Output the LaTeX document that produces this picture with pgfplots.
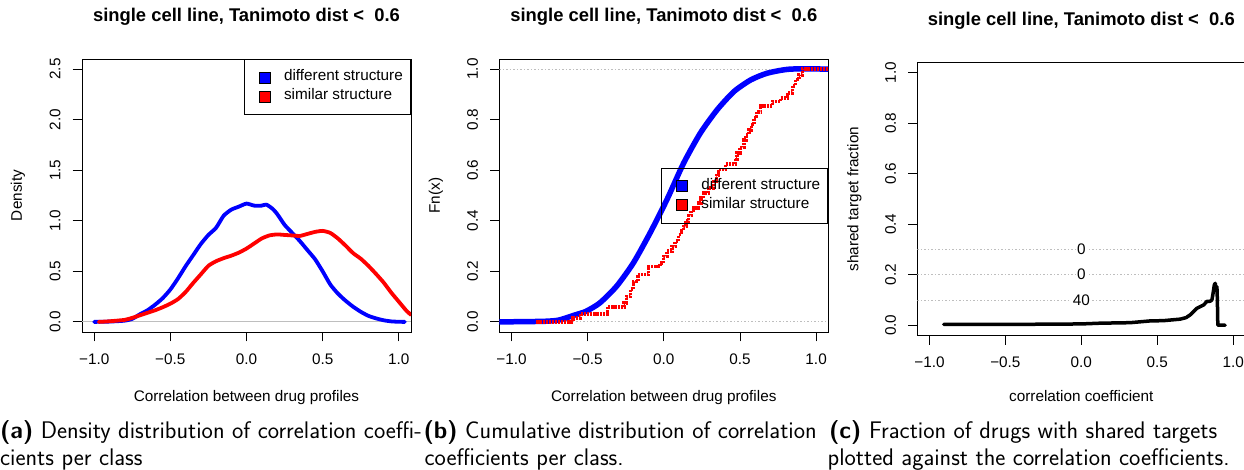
\documentclass[border=0pt]{standalone}
\usepackage{fontspec}
\setmainfont{Liberation Sans}
\usepackage{pgfplots}
\pgfplotsset{compat=1.18}
\definecolor{rblue}{RGB}{0,0,255}
\definecolor{rred}{RGB}{255,0,0}
\definecolor{rgray}{RGB}{190,190,190}

\pgfplotstableread{
x y
-1.00 0.000
-0.90 0.003
-0.80 0.012
-0.75 0.030
-0.70 0.075
-0.65 0.115
-0.60 0.170
-0.55 0.235
-0.50 0.320
-0.45 0.430
-0.40 0.550
-0.35 0.660
-0.30 0.770
-0.25 0.860
-0.20 0.930
-0.15 1.050
-0.10 1.110
-0.05 1.140
0.00 1.170
0.05 1.150
0.10 1.150
0.13 1.160
0.17 1.120
0.20 1.070
0.25 0.960
0.30 0.880
0.35 0.800
0.40 0.710
0.45 0.620
0.50 0.500
0.55 0.370
0.60 0.280
0.65 0.210
0.70 0.150
0.75 0.100
0.80 0.060
0.85 0.035
0.90 0.016
0.95 0.005
1.00 0.001
1.04 0.000
}\densdiff

\pgfplotstableread{
x y
-0.97 0.000
-0.90 0.006
-0.80 0.020
-0.75 0.040
-0.70 0.065
-0.65 0.090
-0.60 0.115
-0.55 0.145
-0.50 0.180
-0.45 0.225
-0.40 0.295
-0.35 0.385
-0.30 0.470
-0.25 0.555
-0.20 0.600
-0.15 0.630
-0.10 0.655
-0.05 0.685
0.00 0.725
0.05 0.775
0.10 0.825
0.15 0.855
0.20 0.865
0.25 0.860
0.30 0.855
0.35 0.850
0.40 0.870
0.45 0.890
0.50 0.900
0.55 0.880
0.60 0.825
0.65 0.755
0.70 0.680
0.75 0.625
0.80 0.555
0.85 0.475
0.90 0.390
0.95 0.290
1.00 0.200
1.05 0.110
1.08 0.070
}\denssim

\pgfplotstableread{
x y
-1.08 0.000
-0.80 0.002
-0.70 0.006
-0.64 0.016
-0.58 0.028
-0.51 0.042
-0.42 0.075
-0.31 0.141
-0.20 0.233
-0.09 0.352
0.02 0.483
0.13 0.628
0.24 0.747
0.35 0.839
0.46 0.911
0.57 0.957
0.68 0.984
0.83 1.000
1.09 1.000
}\cdfdiff

\pgfplotstableread{
x y
-0.837 0.000
-0.596 0.016
-0.547 0.032
-0.369 0.059
-0.260 0.075
-0.245 0.101
-0.220 0.130
-0.200 0.160
-0.171 0.187
-0.101 0.220
-0.024 0.233
-0.003 0.259
0.020 0.280
0.053 0.299
0.075 0.320
0.096 0.345
0.115 0.360
0.129 0.378
0.145 0.400
0.162 0.420
0.180 0.440
0.195 0.450
0.228 0.470
0.245 0.490
0.261 0.510
0.294 0.530
0.327 0.556
0.345 0.580
0.360 0.602
0.404 0.625
0.470 0.645
0.481 0.668
0.500 0.690
0.525 0.720
0.540 0.740
0.558 0.760
0.575 0.780
0.591 0.806
0.610 0.830
0.635 0.855
0.712 0.872
0.767 0.885
0.811 0.905
0.844 0.934
0.866 0.958
0.888 0.977
0.910 1.000
1.090 1.000
}\cdfsim

\pgfplotstableread{
x y
-0.906 0.003
-0.500 0.003
0.000 0.005
0.125 0.008
0.322 0.010
0.454 0.017
0.541 0.018
0.651 0.024
0.690 0.030
0.717 0.041
0.739 0.054
0.761 0.067
0.805 0.080
0.827 0.094
0.849 0.095
0.860 0.100
0.866 0.120
0.876 0.160
0.882 0.166
0.887 0.140
0.893 0.153
0.896 0.100
0.899 0.000
0.947 0.000
}\shared

\pgfplotsset{
  rstyle/.style={
    scale only axis,
    axis line style={line width=0.9pt},
    tick style={line width=0.9pt, black},
    tick align=outside,
    major tick length=9.3pt,
    xtick pos=left, ytick pos=left,
    xtick={-1,-0.5,0,0.5,1},
    xticklabels={−1.0,−0.5,0.0,0.5,1.0},
    tick label style={font=\fontsize{15.3}{18}\selectfont},
    xticklabel style={anchor=base},
    xticklabel shift=23.2pt,
    yticklabel style={rotate=90, anchor=base},
    yticklabel shift=12.2pt,
    label style={font=\fontsize{15.3}{18}\selectfont},
    title style={font=\bfseries\fontsize{18.4}{22}\selectfont, at={(axis description cs:0.5,1)}, anchor=base, yshift=31pt},
    xlabel style={at={(axis description cs:0.5,0)}, anchor=base, yshift=-69pt},
    title={single cell line, Tanimoto dist <~~0.6},
    legend image code/.code={\path (0pt,0pt); \draw[#1, draw=black, line width=0.6pt] (6.5pt,-5.5pt) rectangle (17.5pt,5.5pt);},
    legend cell align=left,
    legend style={draw=black, line width=0.9pt, fill=none, inner xsep=7.7pt, inner ysep=10.5pt,
      font=\fontsize{15.3}{18}\selectfont, column sep=13.5pt, row sep=4pt,
      nodes={inner sep=0pt, text height=11pt, text depth=4pt, anchor=west}},
  }
}

\begin{document}
\begin{tikzpicture}
\path[use as bounding box] (0pt,0pt) rectangle (1244pt,469pt);

% ---------- (a) ----------
\begin{axis}[rstyle, at={(82pt,137pt)}, anchor=south west, width=329pt, height=273pt,
  xmin=-1.08, xmax=1.08, ymin=-0.1, ymax=2.6,
  ytick={0,0.5,1,1.5,2,2.5}, yticklabels={0.0,0.5,1.0,1.5,2.0,2.5},
  xlabel={Correlation between drug profiles}, ylabel={Density},
  ylabel style={at={(axis description cs:-0.1945,0.5)}, anchor=center},
  legend style={at={(rel axis cs:1,1)}, anchor=north east}]
\addlegendimage{fill=rblue}
\addlegendentry{different structure}
\addlegendimage{fill=rred}
\addlegendentry{similar structure}
\addplot[rgray, line width=0.8pt, forget plot] coordinates {(-1.08,0) (1.08,0)};
\addplot[rblue, line width=3.8pt, smooth, tension=0.35, line cap=round, line join=round, forget plot] table {\densdiff};
\addplot[rred, line width=3.8pt, smooth, tension=0.35, line cap=round, line join=round, forget plot] table {\denssim};
\end{axis}

% ---------- (b) ----------
\begin{axis}[rstyle, at={(499.3pt,137pt)}, anchor=south west, width=329pt, height=273pt,
  xmin=-1.08, xmax=1.08, ymin=-0.04, ymax=1.04,
  ytick={0,0.2,0.4,0.6,0.8,1}, yticklabels={0.0,0.2,0.4,0.6,0.8,1.0},
  xlabel={Correlation between drug profiles}, ylabel={Fn(x)},
  ylabel style={at={(axis description cs:-0.193,0.5)}, anchor=center},
  legend style={at={(rel axis cs:1,0.5)}, anchor=east}]
\addlegendimage{fill=rblue}
\addlegendentry{different structure}
\addlegendimage{fill=rred}
\addlegendentry{similar structure}
\addplot[rgray, line width=0.8pt, dash pattern=on 1.5pt off 2pt, forget plot] coordinates {(-1.08,0) (1.08,0)};
\addplot[rgray, line width=0.8pt, dash pattern=on 1.5pt off 2pt, forget plot] coordinates {(-1.08,1) (1.08,1)};
\addplot[rblue, line width=5.5pt, smooth, tension=0.4, line cap=round, line join=round, forget plot] table {\cdfdiff};
\addplot[rred, line width=3.5pt, const plot, dash pattern=on 2.2pt off 0.9pt, forget plot] table {\cdfsim};
\end{axis}

% ---------- (c) ----------
\begin{axis}[rstyle, at={(917.3pt,133.7pt)}, anchor=south west, width=328pt, height=272.6pt,
  xmin=-1.08, xmax=1.08, ymin=-0.04, ymax=1.04,
  ytick={0,0.2,0.4,0.6,0.8,1}, yticklabels={0.0,0.2,0.4,0.6,0.8,1.0},
  xlabel={correlation coefficient}, ylabel={shared target fraction},
  xlabel style={yshift=3.3pt},
  ylabel style={at={(axis description cs:-0.1915,0.5)}, anchor=center}]
\addplot[rgray, line width=0.8pt, dash pattern=on 1.5pt off 2pt] coordinates {(-1.08,0.1) (1.08,0.1)};
\addplot[rgray, line width=0.8pt, dash pattern=on 1.5pt off 2pt] coordinates {(-1.08,0.2) (1.08,0.2)};
\addplot[rgray, line width=0.8pt, dash pattern=on 1.5pt off 2pt] coordinates {(-1.08,0.3) (1.08,0.3)};
\node[fill=white, inner sep=1.5pt, font=\fontsize{15.3}{18}\selectfont] at (axis cs:0,0.3) {0};
\node[fill=white, inner sep=1.5pt, font=\fontsize{15.3}{18}\selectfont] at (axis cs:0,0.2) {0};
\node[fill=white, inner sep=1.5pt, font=\fontsize{15.3}{18}\selectfont] at (axis cs:0,0.1) {40};
\addplot[black, line width=3.5pt, line cap=round, line join=round] table {\shared};
\end{axis}

% ---------- captions ----------
\begin{scope}[every node/.style={anchor=base west, inner sep=0pt, font=\sffamily\fontsize{24}{26.7}\selectfont}]
\node at (0pt,30.7pt) {\textbf{(a)} Density distribution of correlation coeffi-};
\node at (0pt,4pt) {cients per class};
\node at (423.5pt,30.7pt) {\textbf{(b)} Cumulative distribution of correlation};
\node at (424.5pt,4pt) {coefficients per class.};
\node at (829pt,30.7pt) {\textbf{(c)} Fraction of drugs with shared targets};
\node at (827.5pt,4pt) {plotted against the correlation coefficients.};
\end{scope}
\end{tikzpicture}
\end{document}
